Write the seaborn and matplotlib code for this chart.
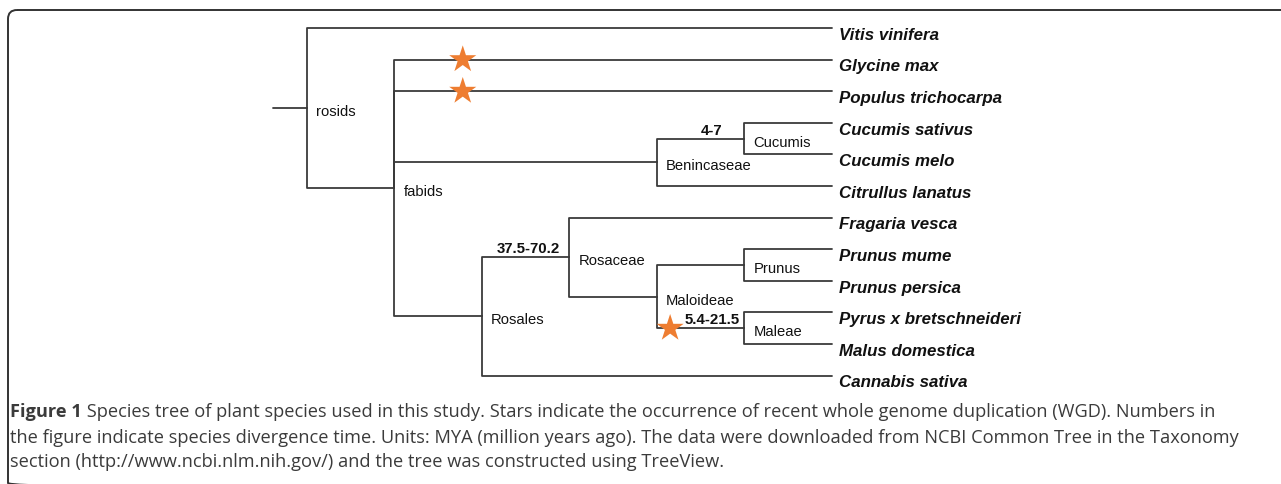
import pandas as pd
import matplotlib.pyplot as plt
import seaborn as sns
from matplotlib.patches import FancyBboxPatch

# Tree data (cladogram, integer node depths)
tips = ['Vitis vinifera', 'Glycine max', 'Populus trichocarpa', 'Cucumis sativus',
        'Cucumis melo', 'Citrullus lanatus', 'Fragaria vesca', 'Prunus mume',
        'Prunus persica', 'Pyrus x bretschneideri', 'Malus domestica', 'Cannabis sativa']
tip_parent = ['rosids', 'fabids', 'fabids', 'Cucumis', 'Cucumis', 'Benincaseae',
              'Rosaceae', 'Prunus', 'Prunus', 'Maleae', 'Maleae', 'Rosales']
tip_depth = 6

nodes = ['rosids', 'fabids', 'Benincaseae', 'Cucumis', 'Rosales',
         'Rosaceae', 'Maloideae', 'Prunus', 'Maleae']
node_parent = [None, 'rosids', 'fabids', 'Benincaseae', 'fabids',
               'Rosales', 'Rosaceae', 'Maloideae', 'Maloideae']
node_depth = [0, 1, 4, 5, 2, 3, 4, 5, 5]

# divergence times (MYA) on the branch leading to a node
div_node = ['Cucumis', 'Rosaceae', 'Maleae']
div_text = ['4-7', '37.5-70.2', '5.4-21.5']

# WGD stars: branch (child) and depth along it
wgd_branch = ['Glycine max', 'Populus trichocarpa', 'Maleae']
wgd_depth = [1.78, 1.78, 4.15]

caption_bold = 'Figure 1'
caption_lines = [
    ' Species tree of plant species used in this study. Stars indicate the occurrence of recent whole genome duplication (WGD). Numbers in',
    'the figure indicate species divergence time. Units: MYA (million years ago). The data were downloaded from NCBI Common Tree in the Taxonomy',
    'section (http://www.ncbi.nlm.nih.gov/) and the tree was constructed using TreeView.',
]

# ---- build layout ----
depth = dict(zip(nodes, node_depth))
parent = dict(zip(nodes, node_parent))
ypos = {}
children = {n: [] for n in nodes}
for i, t in enumerate(tips):
    depth[t] = tip_depth
    parent[t] = tip_parent[i]
    ypos[t] = i
for t, p in zip(tips, tip_parent):
    children[p].append(t)
for n, p in zip(nodes, node_parent):
    if p is not None:
        children[p].append(n)


def get_y(n):
    if n in ypos:
        return ypos[n]
    ys = [get_y(c) for c in children[n]]
    ypos[n] = (min(ys) + max(ys)) / 2
    return ypos[n]


get_y('rosids')

rows = []
seg = 0
for child, p in parent.items():
    if p is None:
        continue
    for x, y in [(depth[p], ypos[p]), (depth[p], ypos[child]), (depth[child], ypos[child])]:
        rows.append({'x': x, 'y': y, 'seg': seg})
    seg += 1
# root stub
for x in [-0.39, 0]:
    rows.append({'x': x, 'y': ypos['rosids'], 'seg': seg})
edges = pd.DataFrame(rows)

stars = pd.DataFrame({'x': wgd_depth, 'y': [ypos[b] for b in wgd_branch]})

# ---- draw ----
sns.set_style('white')
plt.rcParams['font.family'] = ['Liberation Sans', 'DejaVu Sans']
W, H = 1281, 485
fig = plt.figure(figsize=(W / 100, H / 100), dpi=100)

# frame axes in pixel units
bg = fig.add_axes([0, 0, 1, 1])
bg.set_xlim(0, W)
bg.set_ylim(H, 0)
bg.axis('off')
bg.add_patch(FancyBboxPatch((8, 11), W + 50, 482, boxstyle='round,pad=0,rounding_size=9',
                            fill=False, ec='#333333', lw=1.4, clip_on=True))

# tree axes: 87.5 px per depth unit, 31.6 px per tip
ax = fig.add_axes([0, 0, 1, 1])
ax.set_xlim(-307 / 87.5, (W - 307) / 87.5)
ax.set_ylim((H - 29) / 31.6, -29 / 31.6)
ax.axis('off')

line_col = '#3a3a3a'
sns.lineplot(data=edges, x='x', y='y', units='seg', estimator=None, sort=False,
             color=line_col, lw=1.3, ax=ax, legend=False)
sns.scatterplot(data=stars, x='x', y='y', marker='*', s=420, color='#ee7d31',
                edgecolor='none', ax=ax, zorder=5, legend=False)

for t in tips:
    ax.annotate(t, (tip_depth, ypos[t]), xytext=(5, -7.8), textcoords='offset points',
                ha='left', va='baseline', fontsize=12.2, fontweight='bold',
                fontstyle='italic', color='#111111')

for n in nodes:
    ax.annotate(n, (depth[n], ypos[n]), xytext=(6.5, -2.2), textcoords='offset points',
                ha='left', va='center', fontsize=10.6, color='#111111')

div_frac = [0.62, 0.53, 0.63]
for n, txt, f in zip(div_node, div_text, div_frac):
    p = parent[n]
    x = depth[p] + f * (depth[n] - depth[p])
    ax.annotate(txt, (x, ypos[n]), xytext=(0, 1.5), textcoords='offset points',
                ha='center', va='bottom', fontsize=10.8, fontweight='bold', color='#111111')

# caption: fit font size so the second line ends where it does in the figure
cap_font = ['Open Sans', 'DejaVu Sans']
cap_col = '#3b3b3b'
baselines = [417, 443, 467]
fig.canvas.draw()
r = fig.canvas.get_renderer()
probe = bg.text(10, 0, caption_lines[1], family=cap_font, fontsize=12)
wpx = probe.get_window_extent(r).width
probe.remove()
cap_size = 12 * (1238 - 10) / wpx

b = bg.text(10, baselines[0], caption_bold, family=cap_font, fontsize=cap_size,
            fontweight='bold', color=cap_col, va='baseline', ha='left')
bg.annotate(caption_lines[0], xy=(1, 0), xycoords=b, va='bottom', ha='left',
            family=cap_font, fontsize=cap_size, color=cap_col)
for line, yb in zip(caption_lines[1:], baselines[1:]):
    bg.text(10, yb, line, family=cap_font, fontsize=cap_size, color=cap_col,
            va='baseline', ha='left')

fig.savefig('out.png', dpi=100)
